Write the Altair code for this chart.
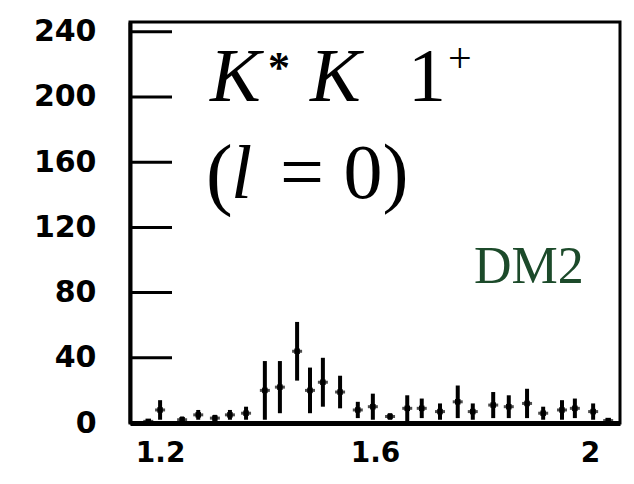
import altair as alt
import pandas as pd

# Data (mass in GeV, events per bin, error)
mass = [1.178, 1.200, 1.241, 1.271, 1.302, 1.330, 1.360, 1.395, 1.423, 1.455, 1.479,
        1.503, 1.535, 1.568, 1.596, 1.628, 1.660, 1.687, 1.721, 1.754, 1.782,
        1.820, 1.849, 1.883, 1.913, 1.948, 1.972, 2.006, 2.034]
counts = [1, 8, 2, 5, 3, 5, 6, 20, 22, 44, 20,
          25, 19, 8, 10, 4, 9, 9, 7, 13, 7,
          11, 10, 12, 6, 8, 9, 7, 1.5]
errors = [1, 6, 2, 3, 2, 3, 4, 18, 16, 18, 14,
          15, 10, 5, 8, 2, 8, 6, 5, 10, 5,
          8, 7, 9, 4, 6, 6, 5, 1]

y_ticks = [0, 40, 80, 120, 160, 200, 240]
x_ticks = [1.2, 1.6, 2.0]

df = pd.DataFrame({"m": mass, "n": counts, "e": errors})
df["lo"] = (df["n"] - df["e"]).clip(lower=0)
df["hi"] = df["n"] + df["e"]

xs = alt.Scale(domain=[1.144, 2.056], nice=False, zero=False)
ys = alt.Scale(domain=[0, 246], nice=False)

x_axis = alt.Axis(values=x_ticks, labelExpr="datum.value == 2 ? '2' : format(datum.value, '.1f')",
                  ticks=False, grid=False, domainWidth=5, domainColor="black",
                  labelFont="DejaVu Sans", labelFontWeight="bold", labelFontSize=28,
                  labelColor="black", labelPadding=16, title=None)
y_axis = alt.Axis(values=y_ticks, format="d", ticks=False, grid=False, domainWidth=4,
                  domainColor="black", labelFont="DejaVu Sans", labelFontWeight="bold",
                  labelFontSize=30, labelColor="black", labelPadding=34, title=None)

base = alt.Chart(df)
bars = base.mark_rule(color="black", strokeWidth=4).encode(
    x=alt.X("m:Q", scale=xs, axis=x_axis),
    y=alt.Y("lo:Q", scale=ys, axis=y_axis),
    y2="hi:Q",
)
caps = base.mark_tick(color="black", orient="horizontal", thickness=3, size=10).encode(
    x=alt.X("m:Q", scale=xs), y=alt.Y("n:Q", scale=ys)
)
pts = base.mark_point(color="black", filled=True, shape="square", size=30, opacity=1).encode(
    x=alt.X("m:Q", scale=xs), y=alt.Y("n:Q", scale=ys)
)

tick_df = pd.DataFrame({"v": y_ticks})
yticks = alt.Chart(tick_df).mark_rule(color="black", strokeWidth=3).encode(
    y=alt.Y("v:Q", scale=ys), x=alt.value(0), x2=alt.value(42)
)


def label(text, px, py, size, style="normal", font="Liberation Serif", color="black", weight="normal"):
    return alt.Chart(pd.DataFrame({"t": [text]})).mark_text(
        font=font, fontSize=size, fontStyle=style, fontWeight=weight, color=color,
        align="left", baseline="alphabetic"
    ).encode(text="t:N", x=alt.value(px), y=alt.value(py))


texts = [
    label("K", 80, 79, 76, "italic"),
    label("*", 138, 60, 44, weight="bold"),
    label("K", 180, 79, 76, "italic"),
    label("1", 278, 79, 76),
    label("+", 318, 50, 42),
    label("(", 76, 178, 80),
    label("l", 101, 176, 76, "italic"),
    label("= 0)", 150, 176, 78),
    label("DM2", 344, 261, 52, color="#1c4a2a"),
]

chart = alt.layer(yticks, bars, caps, pts, *texts).properties(
    width=490, height=401,
    padding={"left": 122, "top": 14, "right": 6, "bottom": 45},
    autosize="none",
).configure_view(stroke="black", strokeWidth=3)

chart.save("out.html", embed_options={"renderer": "svg", "actions": False})
